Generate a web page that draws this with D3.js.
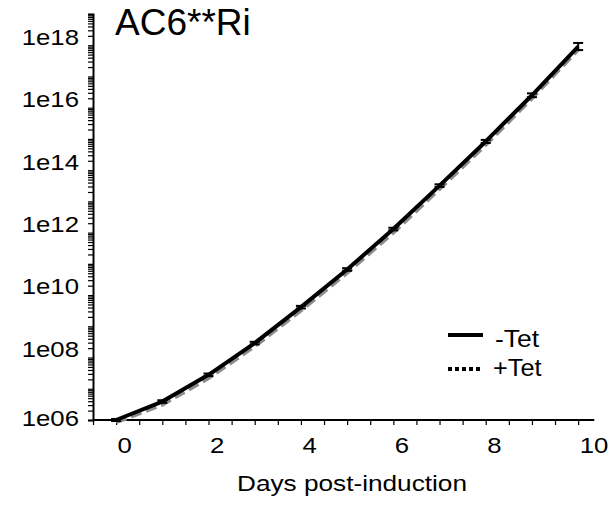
<!doctype html>
<html lang="en">
<head>
    <meta charset="utf-8">
    <title>AC6**Ri growth</title>
    <script src="https://cdn.jsdelivr.net/npm/d3@7"></script>
    <style>
        body { margin: 0; background: #fff; }
        svg { display: block; }
        svg text { font-family: "Liberation Sans", Arial, sans-serif; }
    </style>
</head>
<body>
    <svg></svg>
    <script>
        var width = 612;
        var height = 507;

        // days post-induction
        var days = [0, 1, 2, 3, 4, 5, 6, 7, 8, 9, 10];
        // cumulative cell number, -Tet
        var minusTet = [1e6, 3.9e6, 2.8e7, 2.9e8, 4.1e9, 6.6e10, 1.3e12, 3.2e13, 8.3e14, 2.5e16, 9.1e17];
        // error (multiplicative factor) for -Tet
        var minusErr = [1.08, 1.1, 1.1, 1.1, 1.1, 1.1, 1.1, 1.1, 1.12, 1.15, 1.3];
        // cumulative cell number, +Tet
        var plusTet = [0.85e6, 3.1e6, 2.2e7, 2.3e8, 3.2e9, 5.2e10, 1.0e12, 2.5e13, 6.5e14, 2.0e16, 7.2e17];

        var yLabels = [1e6, 1e8, 1e10, 1e12, 1e14, 1e16, 1e18];
        var xLabels = [0, 2, 4, 6, 8, 10];

        var svg = d3.select('svg').attr('width', width).attr('height', height);

        var xScale = d3.scaleLinear().domain([-0.5, 10.3]).range([93, 592]);
        var yScale = d3.scaleLog().domain([1e6, 1e19]).range([420, 14]);

        // stretch text horizontally (the reference text is wider than plain Arial)
        function stretch(sel, k) {
            sel.each(function () {
                var len = this.getComputedTextLength();
                d3.select(this).attr('textLength', len * k).attr('lengthAdjust', 'spacingAndGlyphs');
            });
        }

        // log ticks: every integer multiple in each decade
        var yTicks = [];
        for (var e = 6; e < 19; e++) {
            for (var k = 1; k <= 9; k++) yTicks.push(k * Math.pow(10, e));
        }
        yTicks.push(1e19);

        var yAxis = d3.axisLeft(yScale)
            .tickValues(yTicks)
            .tickSize(5)
            .tickPadding(9)
            .tickFormat(function (d) {
                var p = Math.round(Math.log10(d));
                return yLabels.indexOf(d) >= 0 ? '1e' + (p < 10 ? '0' + p : p) : '';
            });

        var gy = svg.append('g')
            .attr('transform', 'translate(' + xScale(-0.5) + ',0)')
            .call(yAxis)
            .attr('font-family', null);
        gy.select('.domain').attr('stroke', '#000').attr('stroke-width', 2);
        gy.selectAll('.tick line').attr('stroke', '#000').attr('stroke-width', 1.2);
        gy.selectAll('.tick text')
            .attr('font-size', 22)
            .attr('fill', '#000')
            .attr('dy', function (d) { return d === 1e6 ? '0.25em' : '-0.05em'; })
            .call(stretch, 1.17);

        var xTicks = d3.range(-0.5, 10.01, 0.5);
        var xAxis = d3.axisBottom(xScale)
            .tickValues(xTicks)
            .tickSize(5)
            .tickPadding(12)
            .tickFormat(function (d) { return xLabels.indexOf(d) >= 0 ? d : ''; });

        var gx = svg.append('g')
            .attr('transform', 'translate(0,' + yScale(1e6) + ')')
            .call(xAxis)
            .attr('font-family', null);
        gx.select('.domain').attr('stroke', '#000').attr('stroke-width', 2)
            .attr('d', 'M' + xScale(-0.5) + ',0H' + xScale(10.35));
        gx.selectAll('.tick line').attr('stroke', '#000').attr('stroke-width', 1.2);
        gx.selectAll('.tick text')
            .attr('font-size', 22)
            .attr('fill', '#000')
            .attr('text-anchor', 'start')
            .attr('dx', 1)
            .call(stretch, 1.17);

        // +Tet (grey dashed, drawn underneath)
        var line = d3.line()
            .x(function (d, i) { return xScale(days[i]); })
            .y(function (d) { return yScale(d); });

        svg.append('path')
            .datum(plusTet)
            .attr('d', line)
            .attr('fill', 'none')
            .attr('stroke', '#8c8c8c')
            .attr('stroke-width', 4)
            .attr('stroke-dasharray', '11,5');

        // -Tet error bars
        var eb = svg.append('g').selectAll('g')
            .data(minusTet)
            .enter()
            .append('g');
        eb.append('line')
            .attr('x1', function (d, i) { return xScale(days[i]); })
            .attr('x2', function (d, i) { return xScale(days[i]); })
            .attr('y1', function (d, i) { return yScale(d * minusErr[i]); })
            .attr('y2', function (d, i) { return yScale(d / minusErr[i]); })
            .attr('stroke', '#000').attr('stroke-width', 2);
        eb.append('line')
            .attr('x1', function (d, i) { return xScale(days[i]) - 5; })
            .attr('x2', function (d, i) { return xScale(days[i]) + 5; })
            .attr('y1', function (d, i) { return yScale(d * minusErr[i]); })
            .attr('y2', function (d, i) { return yScale(d * minusErr[i]); })
            .attr('stroke', '#000').attr('stroke-width', 2);
        eb.append('line')
            .attr('x1', function (d, i) { return xScale(days[i]) - 5; })
            .attr('x2', function (d, i) { return xScale(days[i]) + 5; })
            .attr('y1', function (d, i) { return yScale(d / minusErr[i]); })
            .attr('y2', function (d, i) { return yScale(d / minusErr[i]); })
            .attr('stroke', '#000').attr('stroke-width', 2);

        // -Tet line
        svg.append('path')
            .datum(minusTet)
            .attr('d', line)
            .attr('fill', 'none')
            .attr('stroke', '#000')
            .attr('stroke-width', 4)
            .attr('stroke-linejoin', 'round');

        // title
        svg.append('text')
            .attr('x', 115)
            .attr('y', 35)
            .attr('font-size', 37)
            .attr('fill', '#000')
            .text('AC6**Ri');

        // x axis title
        svg.append('text')
            .attr('x', 352)
            .attr('y', 491)
            .attr('font-size', 22)
            .attr('text-anchor', 'middle')
            .attr('fill', '#000')
            .text('Days post-induction')
            .call(stretch, 1.19);

        // legend
        var legend = svg.append('g');
        legend.append('line')
            .attr('x1', 448).attr('x2', 483).attr('y1', 335).attr('y2', 335)
            .attr('stroke', '#000').attr('stroke-width', 4);
        legend.append('line')
            .attr('x1', 448).attr('x2', 483).attr('y1', 369).attr('y2', 369)
            .attr('stroke', '#000').attr('stroke-width', 4)
            .attr('stroke-dasharray', '4,3');
        legend.append('text')
            .attr('x', 495).attr('y', 347)
            .attr('font-size', 23).attr('fill', '#000')
            .text('-Tet')
            .call(stretch, 1.15);
        legend.append('text')
            .attr('x', 493).attr('y', 376)
            .attr('font-size', 23).attr('fill', '#000')
            .text('+Tet')
            .call(stretch, 1.1);
    </script>
</body>
</html>
